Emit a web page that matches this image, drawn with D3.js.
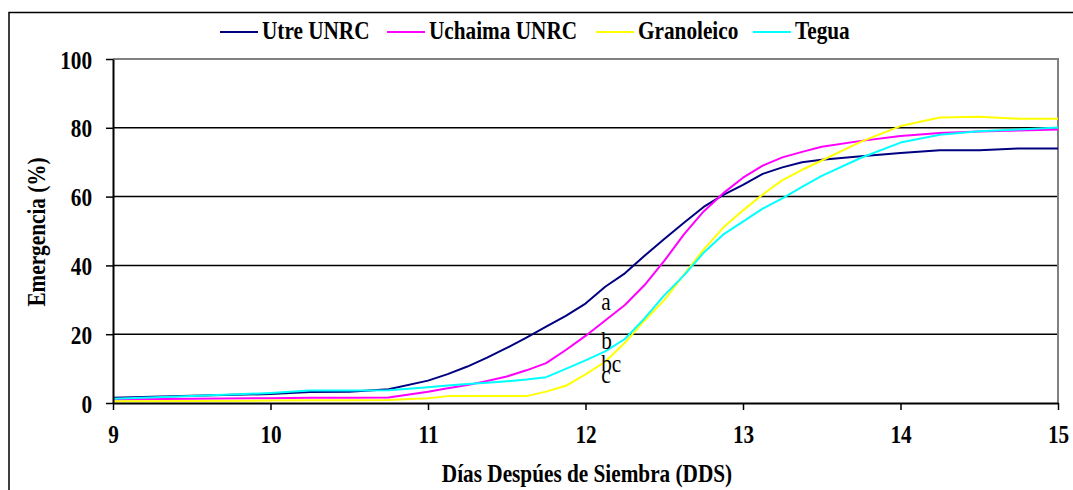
<!DOCTYPE html>
<html>
<head>
<meta charset="utf-8">
<script src="https://cdn.jsdelivr.net/npm/d3@7"></script>
<style>
  body { margin: 0; background: #fff; }
  svg { display: block; }
</style>
</head>
<body>
<div class="container"></div>
<script>
// days after sowing (x values shared by all series)
var days = [9, 9.5, 10, 10.25, 10.5, 10.75, 11, 11.125, 11.25, 11.375, 11.5, 11.625, 11.75, 11.875,
    12, 12.125, 12.25, 12.375, 12.5, 12.625, 12.75, 12.875, 13, 13.125, 13.25, 13.375, 13.5,
    13.75, 14, 14.25, 14.5, 14.75, 15];

var utre = [1.5, 2.1, 2.6, 3.2, 3.3, 4.0, 6.5, 8.4, 10.6, 13.2, 16, 19, 22.2, 25.3,
    28.9, 33.8, 37.7, 42.8, 47.7, 52.4, 57, 60.5, 63.4, 66.6, 68.5, 70, 70.7,
    71.7, 72.7, 73.5, 73.5, 74, 74];
var uchaima = [1, 1.2, 1.4, 1.5, 1.5, 1.6, 3.3, 4.3, 5.2, 6.4, 7.7, 9.5, 11.6, 15.4,
    19.5, 24, 28.5, 34.3, 41.3, 49, 55.7, 61, 65.5, 69, 71.4, 73, 74.5,
    76.2, 77.6, 78.5, 78.9, 79.2, 79.5];
var granoleico = [0.5, 0.6, 0.7, 0.8, 0.8, 0.9, 1.4, 2, 2, 2, 2, 2, 3.3, 5,
    8.3, 12, 17.5, 24, 29.9, 37.3, 44.6, 51, 56, 60.6, 64.8, 67.8, 70.5,
    76, 80.5, 83, 83.2, 82.6, 82.6];
var tegua = [1.2, 2, 2.9, 3.6, 3.6, 3.7, 4.6, 5.1, 5.5, 5.9, 6.3, 6.8, 7.5, 9.9,
    12.4, 15, 18.6, 24.6, 31.3, 37.1, 43.7, 49, 52.7, 56.5, 59.5, 62.8, 66,
    71.3, 75.7, 78, 79, 79.5, 80.1];

var seriesNames = ["Utre UNRC", "Uchaima UNRC", "Granoleico", "Tegua"];
var seriesColors = ["#000080", "#ff00ff", "#ffff00", "#00ffff"];

var xTicks = [9, 10, 11, 12, 13, 14, 15];
var yTicks = [0, 20, 40, 60, 80, 100];

// significance letters (day, value)
var letters = ["a", "b", "bc", "c"];
var letterDays = [12.1, 12.1, 12.1, 12.1];
var letterVals = [27, 15.7, 9, 5.8];

const W = 1073, H = 490;
const sx = 0.85; // text looks horizontally condensed in the original
const serif = '"Liberation Serif", "Times New Roman", serif';

const svg = d3.select('.container').append('svg')
    .attr('width', W)
    .attr('height', H);

// outer chart frame (runs off right/bottom edge)
svg.append('rect')
    .attr('x', 9).attr('y', 12.5)
    .attr('width', 1200).attr('height', 600)
    .attr('fill', 'none').attr('stroke', '#000').attr('stroke-width', 1.5);

const x = d3.scaleLinear().domain([9, 15]).range([113, 1058]);
const y = d3.scaleLinear().domain([0, 100]).range([403, 59]);

// gridlines
svg.append('g').selectAll('line').data(yTicks.filter(d => d > 0 && d < 100)).enter().append('line')
    .attr('x1', x(9)).attr('x2', x(15))
    .attr('y1', d => y(d)).attr('y2', d => y(d))
    .attr('stroke', '#000').attr('stroke-width', 1.5);

// plot area top + right border (gray)
svg.append('path')
    .attr('d', `M${x(9)},${y(100)}H${x(15)}V${y(0)}`)
    .attr('fill', 'none').attr('stroke', '#808080').attr('stroke-width', 2);

// series
const line = d3.line().x((d, i) => x(days[i])).y(d => y(d));
[utre, uchaima, granoleico, tegua].forEach((vals, k) => {
    svg.append('path')
        .attr('d', line(vals))
        .attr('fill', 'none')
        .attr('stroke', seriesColors[k])
        .attr('stroke-width', 2)
        .attr('stroke-linejoin', 'round');
});

// axes
const yAxis = svg.append('g')
    .attr('transform', `translate(${x(9)},0)`)
    .call(d3.axisLeft(y).tickValues(yTicks).tickSize(7).tickSizeOuter(0).tickFormat(d3.format('d')));
const xAxis = svg.append('g')
    .attr('transform', `translate(0,${y(0)})`)
    .call(d3.axisBottom(x).tickValues(xTicks).tickSize(7).tickSizeOuter(0).tickFormat(d3.format('d')));

[yAxis, xAxis].forEach(a => {
    a.select('.domain').attr('stroke', '#000').attr('stroke-width', 2);
    a.selectAll('.tick line').attr('stroke', '#000').attr('stroke-width', 1.5);
    a.selectAll('.tick text')
        .attr('font-family', serif)
        .attr('font-weight', 'bold')
        .attr('font-size', '25px')
        .attr('fill', '#000')
        .attr('dy', null);
});
yAxis.selectAll('.tick text')
    .attr('x', -21 / sx).attr('y', 9)
    .attr('transform', `scale(${sx},1)`);
xAxis.selectAll('.tick text')
    .attr('y', 40)
    .attr('transform', `scale(${sx},1)`);

function condensedText(g, tx, ty, str, opts) {
    opts = opts || {};
    return g.append('text')
        .attr('transform', `translate(${tx},${ty})` + (opts.rotate ? ` rotate(${opts.rotate})` : '') + ` scale(${sx},1)`)
        .attr('font-family', serif)
        .attr('font-size', opts.size || '25px')
        .attr('font-weight', opts.bold === false ? 'normal' : 'bold')
        .attr('text-anchor', opts.anchor || 'start')
        .attr('fill', '#000')
        .text(str);
}

// axis titles
condensedText(svg, 587, 482, 'Días Despúes de Siembra (DDS)', { anchor: 'middle', size: '25px' });
condensedText(svg, 45, 232, 'Emergencia (%)', { anchor: 'middle', size: '25px', rotate: -90 });

// legend
const legendLineX = [220, 387, 596, 753];
const legendLen = 38;
seriesNames.forEach((name, k) => {
    svg.append('line')
        .attr('x1', legendLineX[k]).attr('x2', legendLineX[k] + legendLen)
        .attr('y1', 32).attr('y2', 32)
        .attr('stroke', seriesColors[k]).attr('stroke-width', 2);
    condensedText(svg, legendLineX[k] + legendLen + 4, 39, name, { size: '25px' });
});

// letters
letters.forEach((l, i) => {
    condensedText(svg, x(letterDays[i]), y(letterVals[i]), l, { bold: false, size: '25px' });
});
</script>
</body>
</html>
